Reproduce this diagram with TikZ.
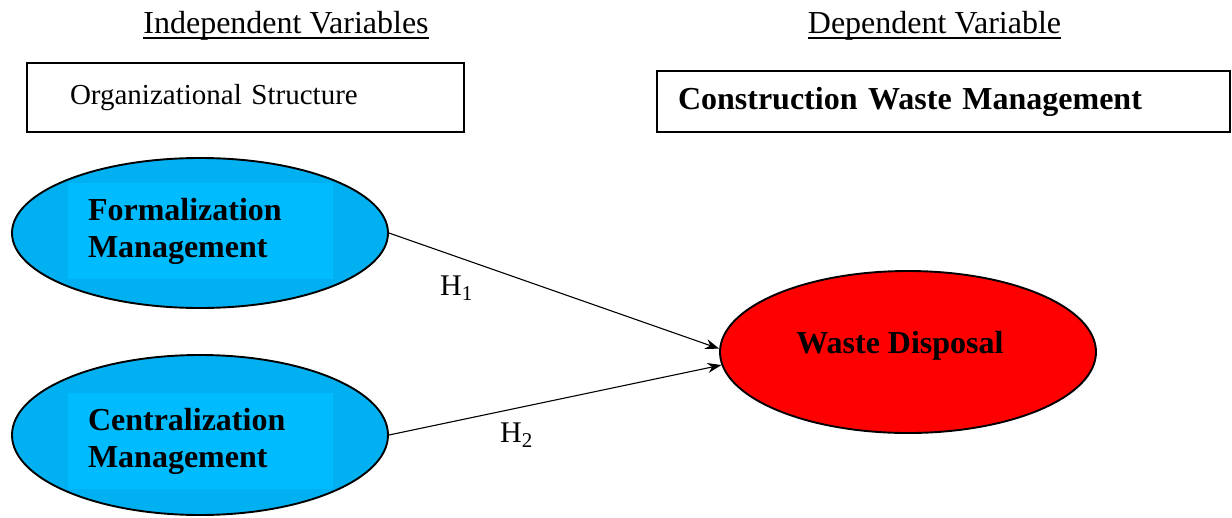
\documentclass[tikz,border=0pt]{standalone}
\usepackage{fontspec}
\setmainfont{Liberation Serif}
\usepackage{xcolor}
\usetikzlibrary{arrows.meta, shapes.geometric}

\definecolor{ovalblue}{HTML}{00B0F0}
\definecolor{textblue}{HTML}{00BCFF}
\definecolor{ovalred}{HTML}{FF0000}

\tikzset{
  oval/.style={draw, ellipse, line width=1.9pt, minimum width=376pt, inner sep=0pt},
  varbox/.style={draw, rectangle, line width=1.5pt, align=left, inner ysep=0pt},
  ovaltext/.style={fill=textblue, align=left, text width=225pt, inner xsep=20pt,
    minimum height=96pt, font=\fontsize{32}{37}\selectfont\bfseries},
  heading/.style={anchor=base, inner sep=0pt, font=\fontsize{32}{38}\selectfont},
  hyp/.style={anchor=base west, inner sep=0pt, font=\fontsize{30}{36}\selectfont}
}

\begin{document}
\begin{tikzpicture}[>={Stealth[length=14pt, width=10pt]}, x=1pt, y=-1pt]
    \useasboundingbox (0,0) rectangle (1232,517);

    % Headings
    \node[heading] (indep) at (286,33) {Independent Variables};
    \node[heading] (dep) at (934.5,33) {Dependent Variable};
    \draw[line width=1.5pt] ([yshift=-5pt]indep.base west) -- ([yshift=-5pt]indep.base east);
    \draw[line width=1.5pt] ([yshift=-5pt]dep.base west) -- ([yshift=-5pt]dep.base east);

    % Variable boxes
    \node[varbox, minimum width=437pt, minimum height=69pt, inner xsep=43pt, text width=351pt,
      font=\fontsize{29}{34}\selectfont] (orgbox) at (245.5,97.5) {Organizational Structure};
    \node[varbox, minimum width=573pt, minimum height=61pt, inner xsep=21pt, text width=531pt,
      font=\fontsize{32}{38}\selectfont\bfseries] (cwmbox) at (943.5,101.5) {Construction Waste Management};

    % Independent variables
    \node[oval, fill=ovalblue, minimum height=150pt] (form) at (200,233) {};
    \node[ovaltext] (formtext) at (200.5,231) {Formalization\\Management};
    \node[oval, fill=ovalblue, minimum height=160pt] (cent) at (200,435) {};
    \node[ovaltext] (centtext) at (200.5,441) {Centralization\\Management};

    % Dependent variable
    \node[oval, fill=ovalred, minimum height=162pt] (waste) at (908,352) {};
    \node[anchor=base, inner sep=0pt, font=\fontsize{32}{38}\selectfont\bfseries] (wastetext) at (900,353) {Waste Disposal};

    % Hypotheses
    \draw[->, line width=1.1pt] (form.east) -- (waste.179);
    \draw[->, line width=1.1pt] (cent.east) -- (waste.184);
    \node[hyp] (hone) at (440,295) {H\textsubscript{1}};
    \node[hyp] (htwo) at (500,442) {H\textsubscript{2}};
\end{tikzpicture}
\end{document}
